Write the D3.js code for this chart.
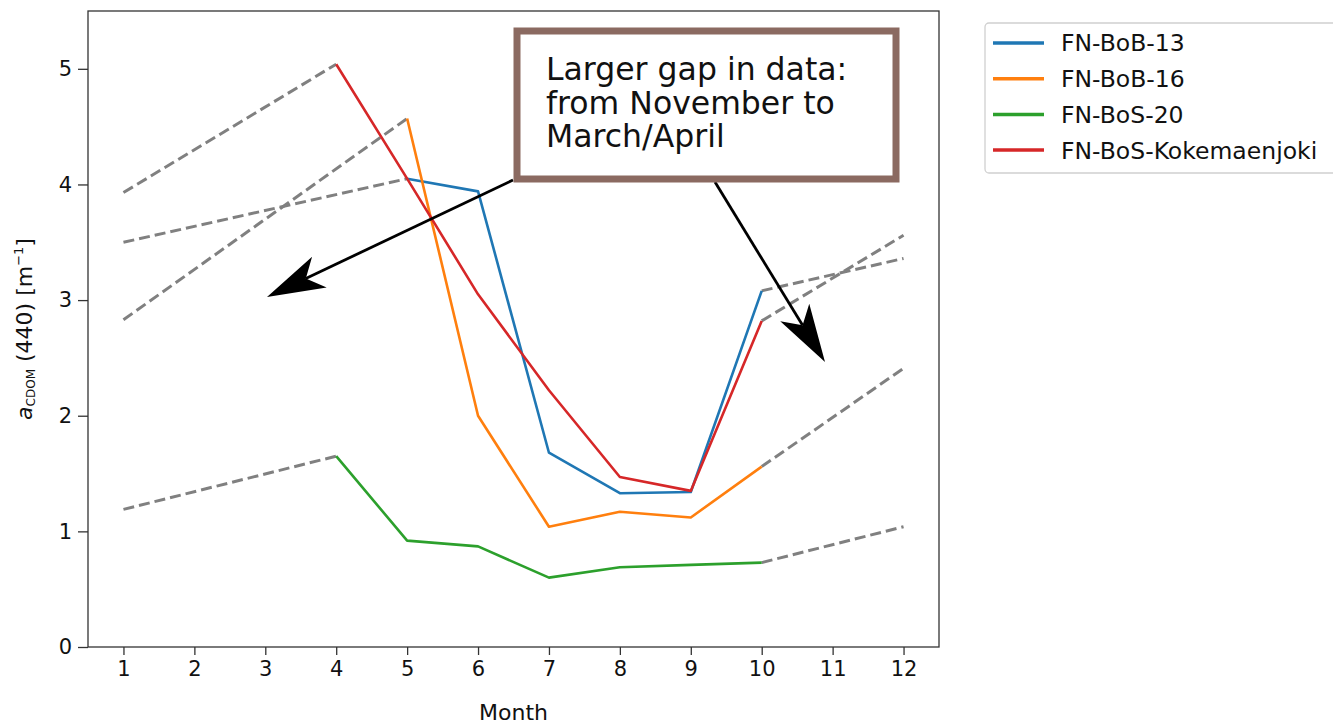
<!DOCTYPE html>
<html>
<head>
<meta charset="utf-8">
<script src="https://cdn.jsdelivr.net/npm/d3@7"></script>
<style>
  body { margin: 0; background: #fff; }
  svg { display: block; font-family: "DejaVu Sans", Verdana, sans-serif; }
</style>
</head>
<body>
<div id="vis"></div>
<script>
// Monthly aCDOM(440) values, null = no measurement
var months = [1, 2, 3, 4, 5, 6, 7, 8, 9, 10, 11, 12];
var seriesNames = ['FN-BoB-13', 'FN-BoB-16', 'FN-BoS-20', 'FN-BoS-Kokemaenjoki'];
var seriesColors = ['#1f77b4', '#ff7f0e', '#2ca02c', '#d62728'];
var bob13 = [null, null, null, null, 4.05, 3.94, 1.68, 1.33, 1.34, 3.08, null, null];
var bob16 = [null, null, null, null, 4.57, 2.00, 1.04, 1.17, 1.12, 1.56, null, null];
var bos20 = [null, null, null, 1.65, 0.92, 0.87, 0.60, 0.69, 0.71, 0.73, null, null];
var kokem = [null, null, null, 5.04, 4.05, 3.05, 2.22, 1.47, 1.35, 2.82, null, null];
// estimated values bridging the winter gap (January and December)
var janEstimate = [3.50, 2.83, 1.19, 3.93];
var decEstimate = [3.36, 2.41, 1.04, 3.56];
var yTicks = [0, 1, 2, 3, 4, 5];
var noteLines = ['Larger gap in data:', 'from November to', 'March/April'];

var width = 1333, height = 724;
var margin = { top: 11, right: 394, bottom: 77, left: 88 };
var drawWidth = width - margin.left - margin.right;
var drawHeight = height - margin.top - margin.bottom;

var svg = d3.select('#vis').append('svg')
    .attr('width', width)
    .attr('height', height);

var g = svg.append('g')
    .attr('transform', 'translate(' + margin.left + ',' + margin.top + ')');

var xScale = d3.scaleLinear().domain([0.5, 12.5]).range([0, drawWidth]);
var yScale = d3.scaleLinear().domain([0, 5.5]).range([drawHeight, 0]);

var allSeries = [bob13, bob16, bos20, kokem];

var line = d3.line()
    .defined(function(d) { return d[1] != null; })
    .x(function(d) { return xScale(d[0]); })
    .y(function(d) { return yScale(d[1]); });

// gray dashed bridging segments
allSeries.forEach(function(vals, i) {
    var obs = months.map(function(m, j) { return [m, vals[j]]; })
        .filter(function(d) { return d[1] != null; });
    var first = obs[0], last = obs[obs.length - 1];
    [[[1, janEstimate[i]], first], [last, [12, decEstimate[i]]]].forEach(function(seg) {
        g.append('path')
            .attr('d', line(seg))
            .attr('fill', 'none')
            .attr('stroke', '#808080')
            .attr('stroke-width', 3)
            .attr('stroke-dasharray', '11,5');
    });
});

// measured lines
allSeries.forEach(function(vals, i) {
    g.append('path')
        .datum(months.map(function(m, j) { return [m, vals[j]]; }))
        .attr('d', line)
        .attr('fill', 'none')
        .attr('stroke', seriesColors[i])
        .attr('stroke-width', 2.6)
        .attr('stroke-linejoin', 'round');
});

// axes
var xAxis = d3.axisBottom(xScale).tickValues(months).tickSize(8).tickPadding(6).tickFormat(d3.format('d'));
var yAxis = d3.axisLeft(yScale).tickValues(yTicks).tickSize(10).tickPadding(6).tickFormat(d3.format('d'));

var gx = g.append('g').attr('transform', 'translate(0,' + drawHeight + ')').call(xAxis);
var gy = g.append('g').call(yAxis);
[gx, gy].forEach(function(a) {
    a.select('.domain').remove();
    a.selectAll('line').attr('stroke', '#333').attr('stroke-width', 1.3);
    a.selectAll('text').attr('font-size', 21).attr('fill', '#111').attr('font-family', 'DejaVu Sans');
});

g.append('rect')
    .attr('width', drawWidth).attr('height', drawHeight)
    .attr('fill', 'none').attr('stroke', '#333').attr('stroke-width', 1.3);

// axis labels
svg.append('text')
    .attr('x', margin.left + drawWidth / 2).attr('y', 720)
    .attr('text-anchor', 'middle').attr('font-size', 22).attr('fill', '#111')
    .text('Month');

var yl = svg.append('text')
    .attr('transform', 'translate(32,' + (margin.top + drawHeight / 2) + ') rotate(-90)')
    .attr('text-anchor', 'middle').attr('font-size', 22).attr('fill', '#111');
yl.append('tspan').attr('font-style', 'italic').text('a');
yl.append('tspan').attr('font-size', 12).attr('dy', 3).text('CDOM');
yl.append('tspan').attr('dy', -3).text(' (440) [m');
yl.append('tspan').attr('font-size', 13).attr('dy', -9).text('\u22121');
yl.append('tspan').attr('dy', 9).text(']');

// annotation arrows
function arrow(x0, y0, x1, y1) {
    var dx = x1 - x0, dy = y1 - y0, len = Math.sqrt(dx * dx + dy * dy);
    var ux = dx / len, uy = dy / len, px = -uy, py = ux;
    var headLen = 58, half = 17, notch = 43;
    var nx = x1 - ux * notch, ny = y1 - uy * notch;
    svg.append('line')
        .attr('x1', x0).attr('y1', y0).attr('x2', nx).attr('y2', ny)
        .attr('stroke', '#000').attr('stroke-width', 2.8);
    var bx = x1 - ux * headLen, by = y1 - uy * headLen;
    svg.append('path')
        .attr('d', 'M' + x1 + ',' + y1 +
            'L' + (bx + px * half) + ',' + (by + py * half) +
            'L' + nx + ',' + ny +
            'L' + (bx - px * half) + ',' + (by - py * half) + 'Z')
        .attr('fill', '#000');
}
arrow(513, 180, 267, 297);
arrow(715, 182, 825, 362);

// annotation box
svg.append('rect')
    .attr('x', 517).attr('y', 31).attr('width', 379).attr('height', 148)
    .attr('fill', '#fff').attr('stroke', '#8b6a61').attr('stroke-width', 7);
svg.append('g').selectAll('text').data(noteLines).enter().append('text')
    .attr('x', 546).attr('y', function(d, i) { return 80 + i * 33.5; })
    .attr('font-size', 31.5).attr('fill', '#111')
    .text(function(d) { return d; });

// legend
var legend = svg.append('g');
legend.append('rect')
    .attr('x', 985).attr('y', 23).attr('width', 400).attr('height', 150).attr('rx', 4)
    .attr('fill', '#fff').attr('stroke', '#d0d0d0').attr('stroke-width', 1.3);
seriesNames.forEach(function(name, i) {
    var y = 43 + i * 35.7;
    legend.append('line')
        .attr('x1', 993).attr('x2', 1044).attr('y1', y).attr('y2', y)
        .attr('stroke', seriesColors[i]).attr('stroke-width', 3.5);
    legend.append('text')
        .attr('x', 1061).attr('y', y).attr('dy', '0.36em')
        .attr('font-size', 23.5).attr('fill', '#111')
        .text(name);
});
</script>
</body>
</html>
